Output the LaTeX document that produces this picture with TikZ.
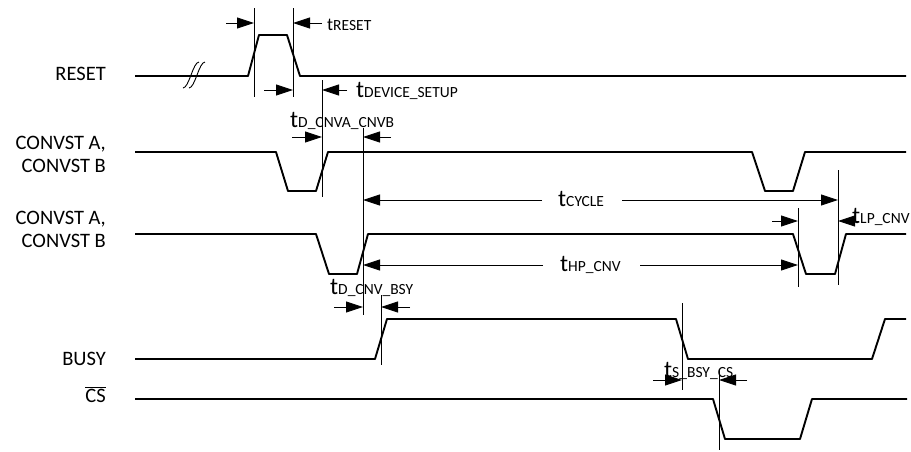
\documentclass[tikz,border=0pt]{standalone}
\usepackage{fontspec}
\setmainfont{Carlito}
\usetikzlibrary{arrows.meta}

\newcommand{\tname}[2][24]{{\fontsize{#1}{26}\selectfont t}{\fontsize{15.5}{17}\selectfont #2}}

\begin{document}
\begin{tikzpicture}[x=1pt,y=-1pt]
    \tikzstyle{signal}=[line width=1.9pt, line join=round]
    \tikzstyle{marker}=[line width=0.9pt]
    \tikzstyle{timing}=[line width=0.9pt, -{Triangle[length=17pt,width=11pt]}]
    \tikzstyle{signame}=[inner sep=0pt, align=right, font=\fontsize{20.5}{23}\selectfont]
    \tikzstyle{tlabel}=[inner sep=0pt, anchor=base west]

    \useasboundingbox (0,0) rectangle (911,451);

    % Signal names
    \node[signame, anchor=base east] (reset) at (106,80) {RESET};
    \node[signame, anchor=east] (cnv-1) at (106,154) {CONVST A,\\CONVST B};
    \node[signame, anchor=east] (cnv-2) at (106,229) {CONVST A,\\CONVST B};
    \node[signame, anchor=base east] (busy) at (106,365) {BUSY};
    \node[signame, anchor=base east] (cs) at (106,402) {$\overline{\mbox{CS}}$};

    % Waveforms
    \draw[signal] (135,76) -- (248,76) -- (259,35) -- (287,35) -- (300,76) -- (906,76);
    \draw[signal] (135,152) -- (276,152) -- (288,191) -- (316,191) -- (328,152)
        -- (752,152) -- (765,191) -- (793,191) -- (805,152) -- (906,152);
    \draw[signal] (135,234) -- (316,234) -- (329,274) -- (357,274) -- (368,234)
        -- (793,234) -- (806,274) -- (835,274) -- (846,234) -- (906,234);
    \draw[signal] (135,359) -- (375,359) -- (387,319) -- (676,319) -- (688,359)
        -- (872,359) -- (885,319) -- (906,319);
    \draw[signal] (135,399) -- (713,399) -- (725,439) -- (800,439) -- (812,399) -- (907,399);

    % Break on the RESET line
    \foreach \dx in {0,6}
        \draw[marker] (183+\dx,88) .. controls (189+\dx,88) and (193+\dx,62) .. (199+\dx,62);

    % Timing markers
    \foreach \name / \x / \top / \bot in {m1/254/8/97, m2/293/8/97, m3/322/80/197,
        m4/363/128/315, m5/838/170/285, m6/798/208/287, m7/381/295/365,
        m8/682/303/390, m9/719/370/450} {
        \coordinate (\name) at (\x,\top);
        \coordinate (\name-b) at (\x,\bot);
        \draw[marker] (\name) -- (\name-b);
    }

    % Arrows from a tail up to a marker
    \foreach \tail / \x / \y / \mk in {rst-l/226/23/m1, rst-r/322/23/m2,
        dev-l/264/90/m2, dev-r/347/90/m3, dab-l/292/137/m3, dab-r/391/137/m4,
        cyc-l/542/200/m4, cyc-r/622/200/m5, hp-l/543/265/m4, hp-r/640/265/m6,
        lp-l/772/221/m6, lp-r/859/221/m5, dcb-l/334/307/m4, dcb-r/410/307/m7,
        sbc-l/653/380/m8, sbc-r/747/380/m9} {
        \coordinate (\tail) at (\x,\y);
        \draw[timing] (\tail) -- (\tail -| \mk);
    }

    % Timing labels
    \node[tlabel] (t-reset) at (327,30) {\tname[18]{RESET}};
    \node[tlabel] (t-dev) at (356,97) {\tname{DEVICE\_SETUP}};
    \node[tlabel] (t-dab) at (290,127) {\tname{D\_CNVA\_CNVB}};
    \node[tlabel] (t-cyc) at (558,206) {\tname{CYCLE}};
    \node[tlabel] (t-hp) at (560,271) {\tname{HP\_CNV}};
    \node[tlabel] (t-lp) at (852,223) {\tname{LP\_CNV}};
    \node[tlabel] (t-dcb) at (330,294) {\tname{D\_CNV\_BSY}};
    \node[tlabel] (t-sbc) at (664,377) {\tname{S\_BSY\_CS}};
\end{tikzpicture}
\end{document}
